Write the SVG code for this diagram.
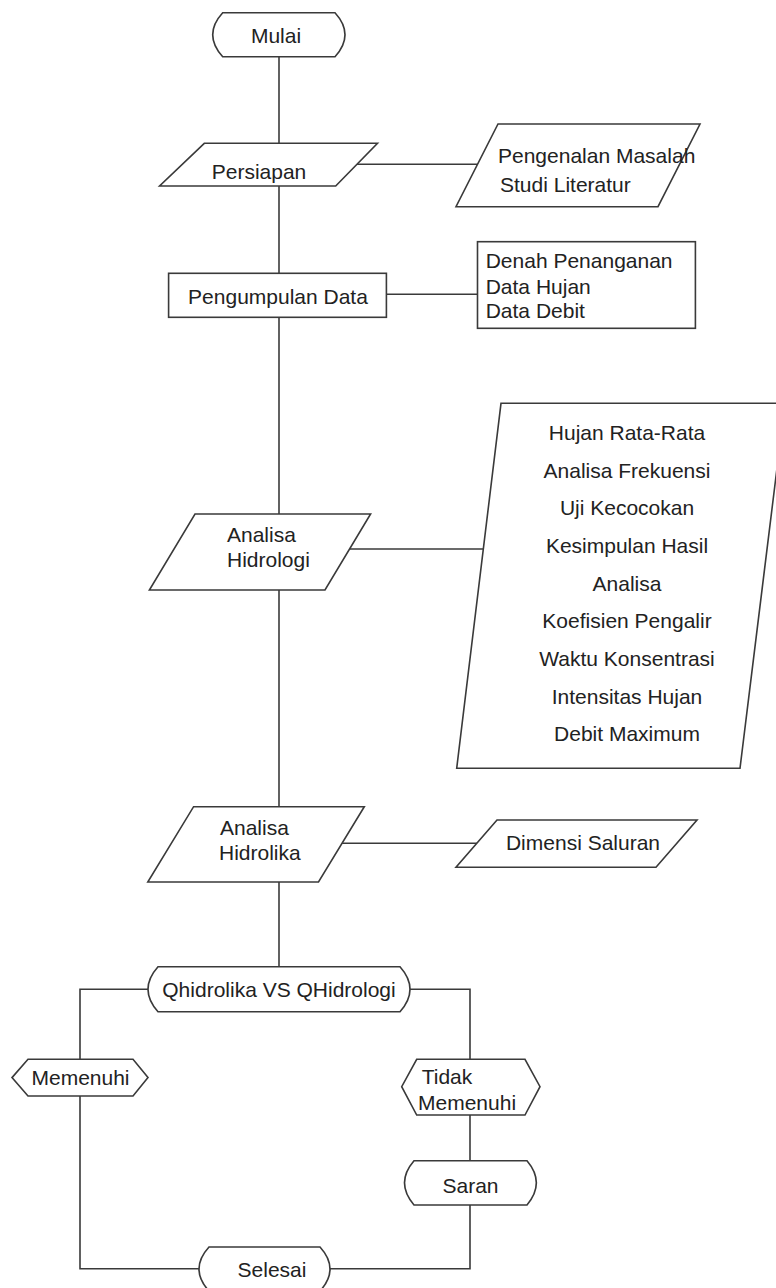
<svg xmlns="http://www.w3.org/2000/svg" width="776" height="1288" viewBox="0 0 776 1288">
<style>
.s{fill:#fff;stroke:#3a3a3a;stroke-width:1.6;stroke-linejoin:miter}
.c{fill:none;stroke:#3a3a3a;stroke-width:1.6}
text{font-family:"Liberation Sans",Arial,sans-serif;font-size:21px;fill:#222}
.m{text-anchor:middle}
</style>
<rect width="776" height="1288" fill="#fff"/>
<g id="connectors">
<line class="c" x1="279" y1="56.7" x2="279" y2="143.3"/>
<line class="c" x1="279" y1="186" x2="279" y2="273.3"/>
<line class="c" x1="279" y1="317.3" x2="279" y2="514"/>
<line class="c" x1="279" y1="590" x2="279" y2="806.7"/>
<line class="c" x1="279" y1="882" x2="279" y2="966.7"/>
<line class="c" x1="356.6" y1="164.3" x2="477.5" y2="164.3"/>
<line class="c" x1="386.4" y1="294.3" x2="477.5" y2="294.3"/>
<line class="c" x1="349.6" y1="549" x2="486" y2="549"/>
<line class="c" x1="342" y1="843.3" x2="476.8" y2="843.3"/>
<polyline class="c" points="148,989.3 80,989.3 80,1059.3"/>
<polyline class="c" points="410,989.3 470,989.3 470,1059.3"/>
<polyline class="c" points="80,1096 80,1268.7 199,1268.7"/>
<line class="c" x1="470" y1="1115" x2="470" y2="1160.7"/>
<polyline class="c" points="470,1205 470,1268.7 330,1268.7"/>
</g>
<g id="mulai">
<path class="s" d="M222.7,12.7 H335 Q355,34.7 335,56.7 H222.7 Q202.7,34.7 222.7,12.7 Z"/>
<text class="m" x="276" y="43.3">Mulai</text>
</g>
<g id="persiapan">
<polygon class="s" points="204.3,143.3 377.5,143.3 335.7,186 159.6,186"/>
<text class="m" x="259" y="179">Persiapan</text>
</g>
<g id="pengenalan">
<polygon class="s" points="498,124 700,124 658,206.7 456,206.7"/>
<text x="498" y="162.7">Pengenalan Masalah</text>
<text x="500" y="191.7">Studi Literatur</text>
</g>
<g id="pengumpulan">
<rect class="s" x="168.6" y="273.3" width="217.8" height="44"/>
<text class="m" x="278" y="304.3">Pengumpulan Data</text>
</g>
<g id="data">
<rect class="s" x="477.5" y="241.7" width="217.9" height="86.6"/>
<text x="485.7" y="268.3">Denah Penanganan</text>
<text x="485.7" y="294">Data Hujan</text>
<text x="485.7" y="318.3">Data Debit</text>
</g>
<g id="hidrologi">
<polygon class="s" points="195,514 370.6,514 325,590 149.4,590"/>
<text x="227" y="541.7">Analisa</text>
<text x="227" y="566.7">Hidrologi</text>
</g>
<g id="analisis-hidrologi">
<polygon class="s" points="501,403.3 785,403.3 740,768.3 456.7,768.3"/>
<text class="m" x="627" y="440">Hujan Rata-Rata</text>
<text class="m" x="627" y="477.7">Analisa Frekuensi</text>
<text class="m" x="627" y="515.4">Uji Kecocokan</text>
<text class="m" x="627" y="553">Kesimpulan Hasil</text>
<text class="m" x="627" y="590.7">Analisa</text>
<text class="m" x="627" y="628.4">Koefisien Pengalir</text>
<text class="m" x="627" y="666">Waktu Konsentrasi</text>
<text class="m" x="627" y="703.7">Intensitas Hujan</text>
<text class="m" x="627" y="741.4">Debit Maximum</text>
</g>
<g id="hidrolika">
<polygon class="s" points="193.6,806.7 364.3,806.7 318.5,882 147.8,882"/>
<text x="220" y="835">Analisa</text>
<text x="219" y="860">Hidrolika</text>
</g>
<g id="dimensi">
<polygon class="s" points="497,820 697,820 656,867.3 456,867.3"/>
<text class="m" x="583" y="850">Dimensi Saluran</text>
</g>
<g id="qcompare">
<path class="s" d="M158,966.7 H400 Q420,989.2 400,1011.7 H158 Q138,989.2 158,966.7 Z"/>
<text class="m" x="279" y="997">Qhidrolika VS QHidrologi</text>
</g>
<g id="memenuhi">
<polygon class="s" points="28,1059.3 133,1059.3 148,1077.6 133,1096 28,1096 12,1077.6"/>
<text class="m" x="80.5" y="1085">Memenuhi</text>
</g>
<g id="tidak-memenuhi">
<polygon class="s" points="416.7,1059.3 525,1059.3 540,1086.7 525,1115 416.7,1115 401.7,1086.7"/>
<text x="421.7" y="1084">Tidak</text>
<text x="418" y="1110">Memenuhi</text>
</g>
<g id="saran">
<path class="s" d="M414,1160.7 H527 Q545.7,1182.8 527,1205 H414 Q395,1182.8 414,1160.7 Z"/>
<text class="m" x="470.5" y="1192.7">Saran</text>
</g>
<g id="selesai">
<path class="s" d="M209,1247 H320 Q340,1269 320,1291 H209 Q189,1269 209,1247 Z"/>
<text class="m" x="272" y="1277">Selesai</text>
</g>
</svg>
